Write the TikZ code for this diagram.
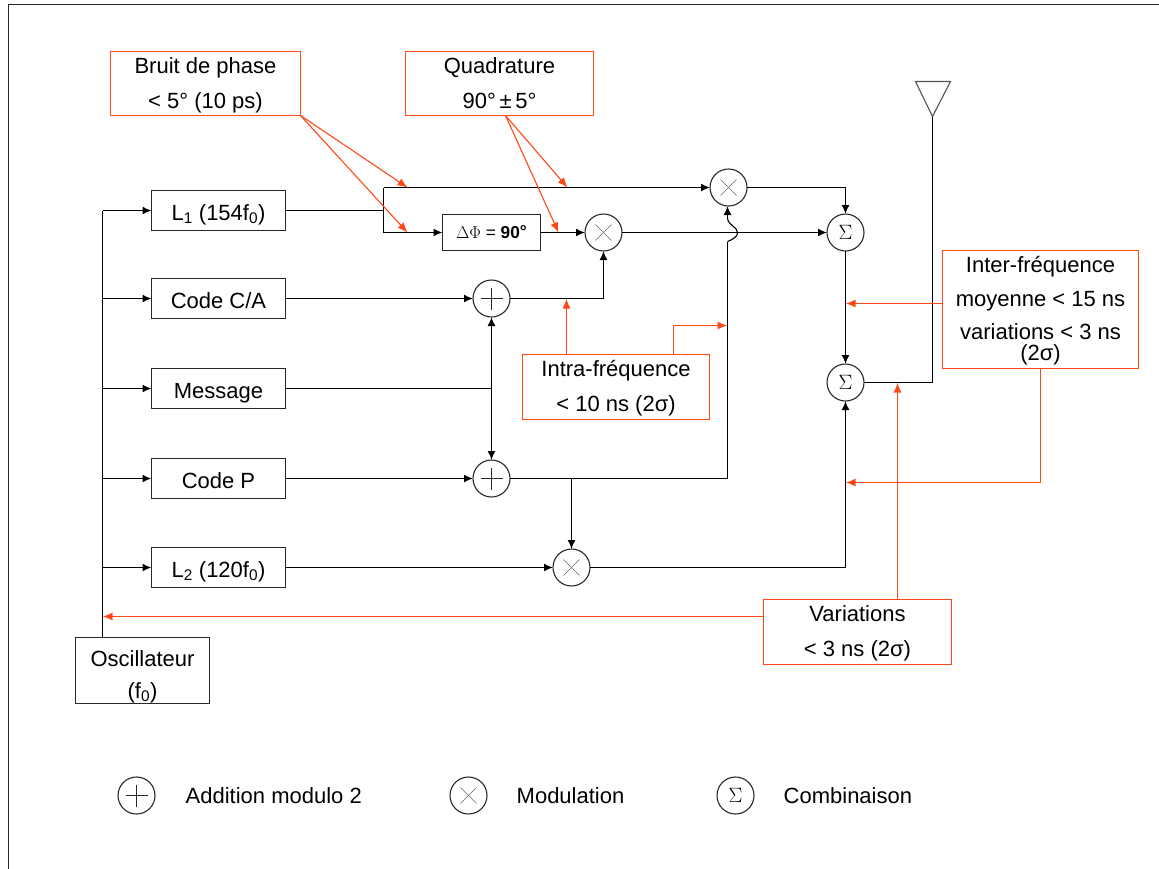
\documentclass[tikz,border=0pt]{standalone}
\usepackage{fontspec}
\setmainfont{Liberation Sans}
\usetikzlibrary{arrows.meta}
\definecolor{rouge}{RGB}{255,72,24}
\definecolor{trait}{RGB}{40,40,40}
\newcommand{\hautnote}{\rule{0pt}{19pt}}
\tikzset{
  fil/.style={draw=black,line width=1.6pt},
  fleche/.style={fil,-{Latex[length=9pt,width=8pt]}},
  flecherouge/.style={-{Latex[length=10pt,width=8pt]},draw=rouge,line width=1.6pt},
  biais/.style={flecherouge,line width=1.1pt},
  bloc/.style={draw=trait,line width=1.7pt,minimum width=134pt,minimum height=40pt,inner sep=0pt,outer sep=0pt,text=black},
  note/.style={draw=rouge,line width=1.7pt,inner sep=0pt,outer sep=0pt,align=center,text=black},
  rond/.style={circle,draw=trait,line width=1.1pt,minimum size=37pt,inner sep=0pt,outer sep=0pt},
  addnode/.style={rond,path picture={
      \draw[line width=0.7pt] ([xshift=-11pt]path picture bounding box.center) -- ([xshift=11pt]path picture bounding box.center);
      \draw[line width=0.7pt] ([yshift=-11pt]path picture bounding box.center) -- ([yshift=11pt]path picture bounding box.center);}},
  mulnode/.style={rond,path picture={
      \draw[line width=0.6pt,trait!70] ([shift={(-8pt,-8pt)}]path picture bounding box.center) -- ([shift={(8pt,8pt)}]path picture bounding box.center);
      \draw[line width=0.6pt,trait!70] ([shift={(-8pt,8pt)}]path picture bounding box.center) -- ([shift={(8pt,-8pt)}]path picture bounding box.center);}},
  sumnode/.style={rond,font=\fontsize{20.74}{24}\selectfont},
  legtexte/.style={anchor=west,inner sep=0pt},
}
\begin{document}
\begin{tikzpicture}[x=1pt,y=-1pt,shift={(0.5,0.5)},font=\fontsize{22}{22}\selectfont]
    \useasboundingbox (-0.5,-0.5) rectangle (1158.5,867.5);
    \draw[line width=1.6pt,draw=trait] (8,868) -- (8,4) -- (1159,4);

    % blocs de gauche
    \foreach \y\t\n in {
        210/L\textsubscript{1} (154f\textsubscript{0})/lun,
        298/Code C\slash A/code,
        388/Message/msg,
        478/Code P/codep,
        567/L\textsubscript{2} (120f\textsubscript{0})/ldeux}{
      \node[bloc,execute at begin node={\rule[-5pt]{0pt}{29pt}}] (\n) at (218,\y) {\t};
    }
    \node[bloc,minimum height=66pt,align=center] (osc) at (142,670) {\rule{0pt}{28pt}Oscillateur\\[10pt](f\textsubscript{0})};
    \node[draw=trait,line width=1.7pt,minimum width=98pt,minimum height=36pt,inner sep=0pt,outer sep=0pt,font=\fontsize{17.28}{20}\selectfont] (dphi) at (491,232)
      {\(\Delta\Phi\) = \textbf{90}\raisebox{1pt}{\textbf{°}}};

    % operateurs
    \node[addnode] (plushaut) at (491,298) {};
    \node[addnode] (plusbas) at (491,478) {};
    \node[mulnode] (multhaut) at (728,187) {};
    \node[mulnode] (multmil) at (603,232) {};
    \node[mulnode] (multbas) at (571,567) {};
    \node[sumnode] (sumhaut) at (845,232) {\(\Sigma\)};
    \node[sumnode] (sumbas) at (845,382) {\(\Sigma\)};

    % notes
    \node[note,minimum width=190pt,minimum height=64pt] (bruit) at (205,83) {\hautnote Bruit de phase\\[13pt]< 5° (10 ps)};
    \node[note,minimum width=188pt,minimum height=64pt] (quad) at (499,83) {\hautnote Quadrature\\[13pt]\rule[-5pt]{0pt}{5pt}90°\,±\,5°};
    \node[note,minimum width=187pt,minimum height=65pt] (intra) at (615.5,386.5) {\hautnote Intra-fréquence\\[13pt]< 10 ns (2σ)};
    \node[note,minimum width=196pt,minimum height=118pt] (inter) at (1040,309) {\hautnote Inter-fréquence\\[12pt]moyenne < 15 ns\\[11pt]variations < 3 ns\\[-1pt](2σ)};
    \node[note,minimum width=188pt,minimum height=65pt] (varia) at (857,631.5) {\hautnote Variations\\[13pt]< 3 ns (2σ)};

    % bus de l'oscillateur
    \coordinate (bushaut) at (102,210);
    \coordinate (busbas) at (102,637);
    \draw[fil] (busbas) -- (bushaut);
    \foreach \n in {lun,code,msg,codep,ldeux}{
      \draw[fleche] (\n.west -| bushaut) -- (\n.west);
    }

    % voie L1
    \coordinate (fourche) at (383,210);
    \coordinate (fourchehaut) at (383,187);
    \coordinate (fourchebas) at (383,232);
    \draw[fil] (lun.east) -- (fourche);
    \draw[fil] (fourchebas) -- (fourchehaut);
    \draw[fleche] (fourchehaut) -- (multhaut.west);
    \draw[fleche] (fourchebas) -- (dphi.west);
    \draw[fleche] (dphi.east) -- (multmil.west);
    \draw[fleche] (multmil.east) -- (sumhaut.west);
    \draw[fleche] (multhaut.east) -| (sumhaut.north);
    \draw[fleche] (sumhaut.south) -- (sumbas.north);

    % voie des codes
    \draw[fleche] (code.east) -- (plushaut.west);
    \draw[fleche] (codep.east) -- (plusbas.west);
    \draw[fil] (msg.east) -- (msg.east -| plushaut);
    \draw[fil,{Latex[length=9pt,width=8pt]}-{Latex[length=9pt,width=8pt]}] (plushaut.south) -- (plusbas.north);
    \draw[fleche] (plushaut.east) -| (multmil.south);
    \coordinate (sautbas) at (727,241);
    \coordinate (sauthaut) at (727,217);
    \draw[fil] (plusbas.east) -| (sautbas);
    \draw[line width=1.1pt] (sautbas) .. controls (734,238) and (737,236) .. (737,232)
      .. controls (737,226) and (727,225) .. (sauthaut);
    \draw[fleche] (sauthaut) -- (sauthaut |- multhaut.south);
    \coordinate (derive) at (multbas.north |- plusbas.east);
    \draw[fleche] (derive) -- (multbas.north);
    \draw[fleche] (ldeux.east) -- (multbas.west);
    \draw[fleche] (multbas.east) -| (sumbas.south);

    % antenne
    \coordinate (antenne) at (932,116);
    \draw[draw=trait!80,line width=1.1pt] (915,81) -- (950,81) -- (antenne) -- cycle;
    \draw[fil] (sumbas.east) -| (antenne);

    % fleches rouges
    \coordinate (bruithaut) at (407,187);
    \coordinate (bruitbas) at (407,232);
    \coordinate (quaddep) at (505,115);
    \coordinate (quadhaut) at (567,187);
    \coordinate (quadbas) at (558,232);
    \draw[biais] (bruit.south east) -- (bruithaut);
    \draw[biais] (bruit.south east) -- (bruitbas);
    \draw[biais] (quaddep) -- (quadhaut);
    \draw[biais] (quaddep) -- (quadbas);
    \coordinate (intradep) at (566,354);
    \coordinate (intrafin) at (566,298);
    \draw[flecherouge] (intradep) -- (intrafin);
    \coordinate (intradeux) at (673,354);
    \coordinate (intracoude) at (673,325);
    \coordinate (intrafleche) at (727,325);
    \draw[flecherouge] (intradeux) -- (intracoude) -- (intrafleche);
    \coordinate (interhaut) at (942,303);
    \coordinate (interfin) at (845,303);
    \draw[flecherouge] (interhaut) -- (interfin);
    \coordinate (interfinb) at (845,482);
    \draw[flecherouge] (inter.south) |- (interfinb);
    \coordinate (variadep) at (763,616);
    \coordinate (variafin) at (102,616);
    \draw[flecherouge] (variadep) -- (variafin);
    \coordinate (variahaut) at (897,599);
    \coordinate (variasig) at (897,382);
    \draw[flecherouge] (variahaut) -- (variasig);

    % legende
    \node[addnode] (legadd) at (136,795) {};
    \node[legtexte] (txtadd) at (185,795) {Addition modulo 2};
    \node[mulnode] (legmul) at (468,795) {};
    \node[legtexte] (txtmul) at (516,795) {Modulation};
    \node[sumnode] (legsum) at (735,795) {\(\Sigma\)};
    \node[legtexte] (txtsum) at (783,795) {Combinaison};
  \end{tikzpicture}
\end{document}
